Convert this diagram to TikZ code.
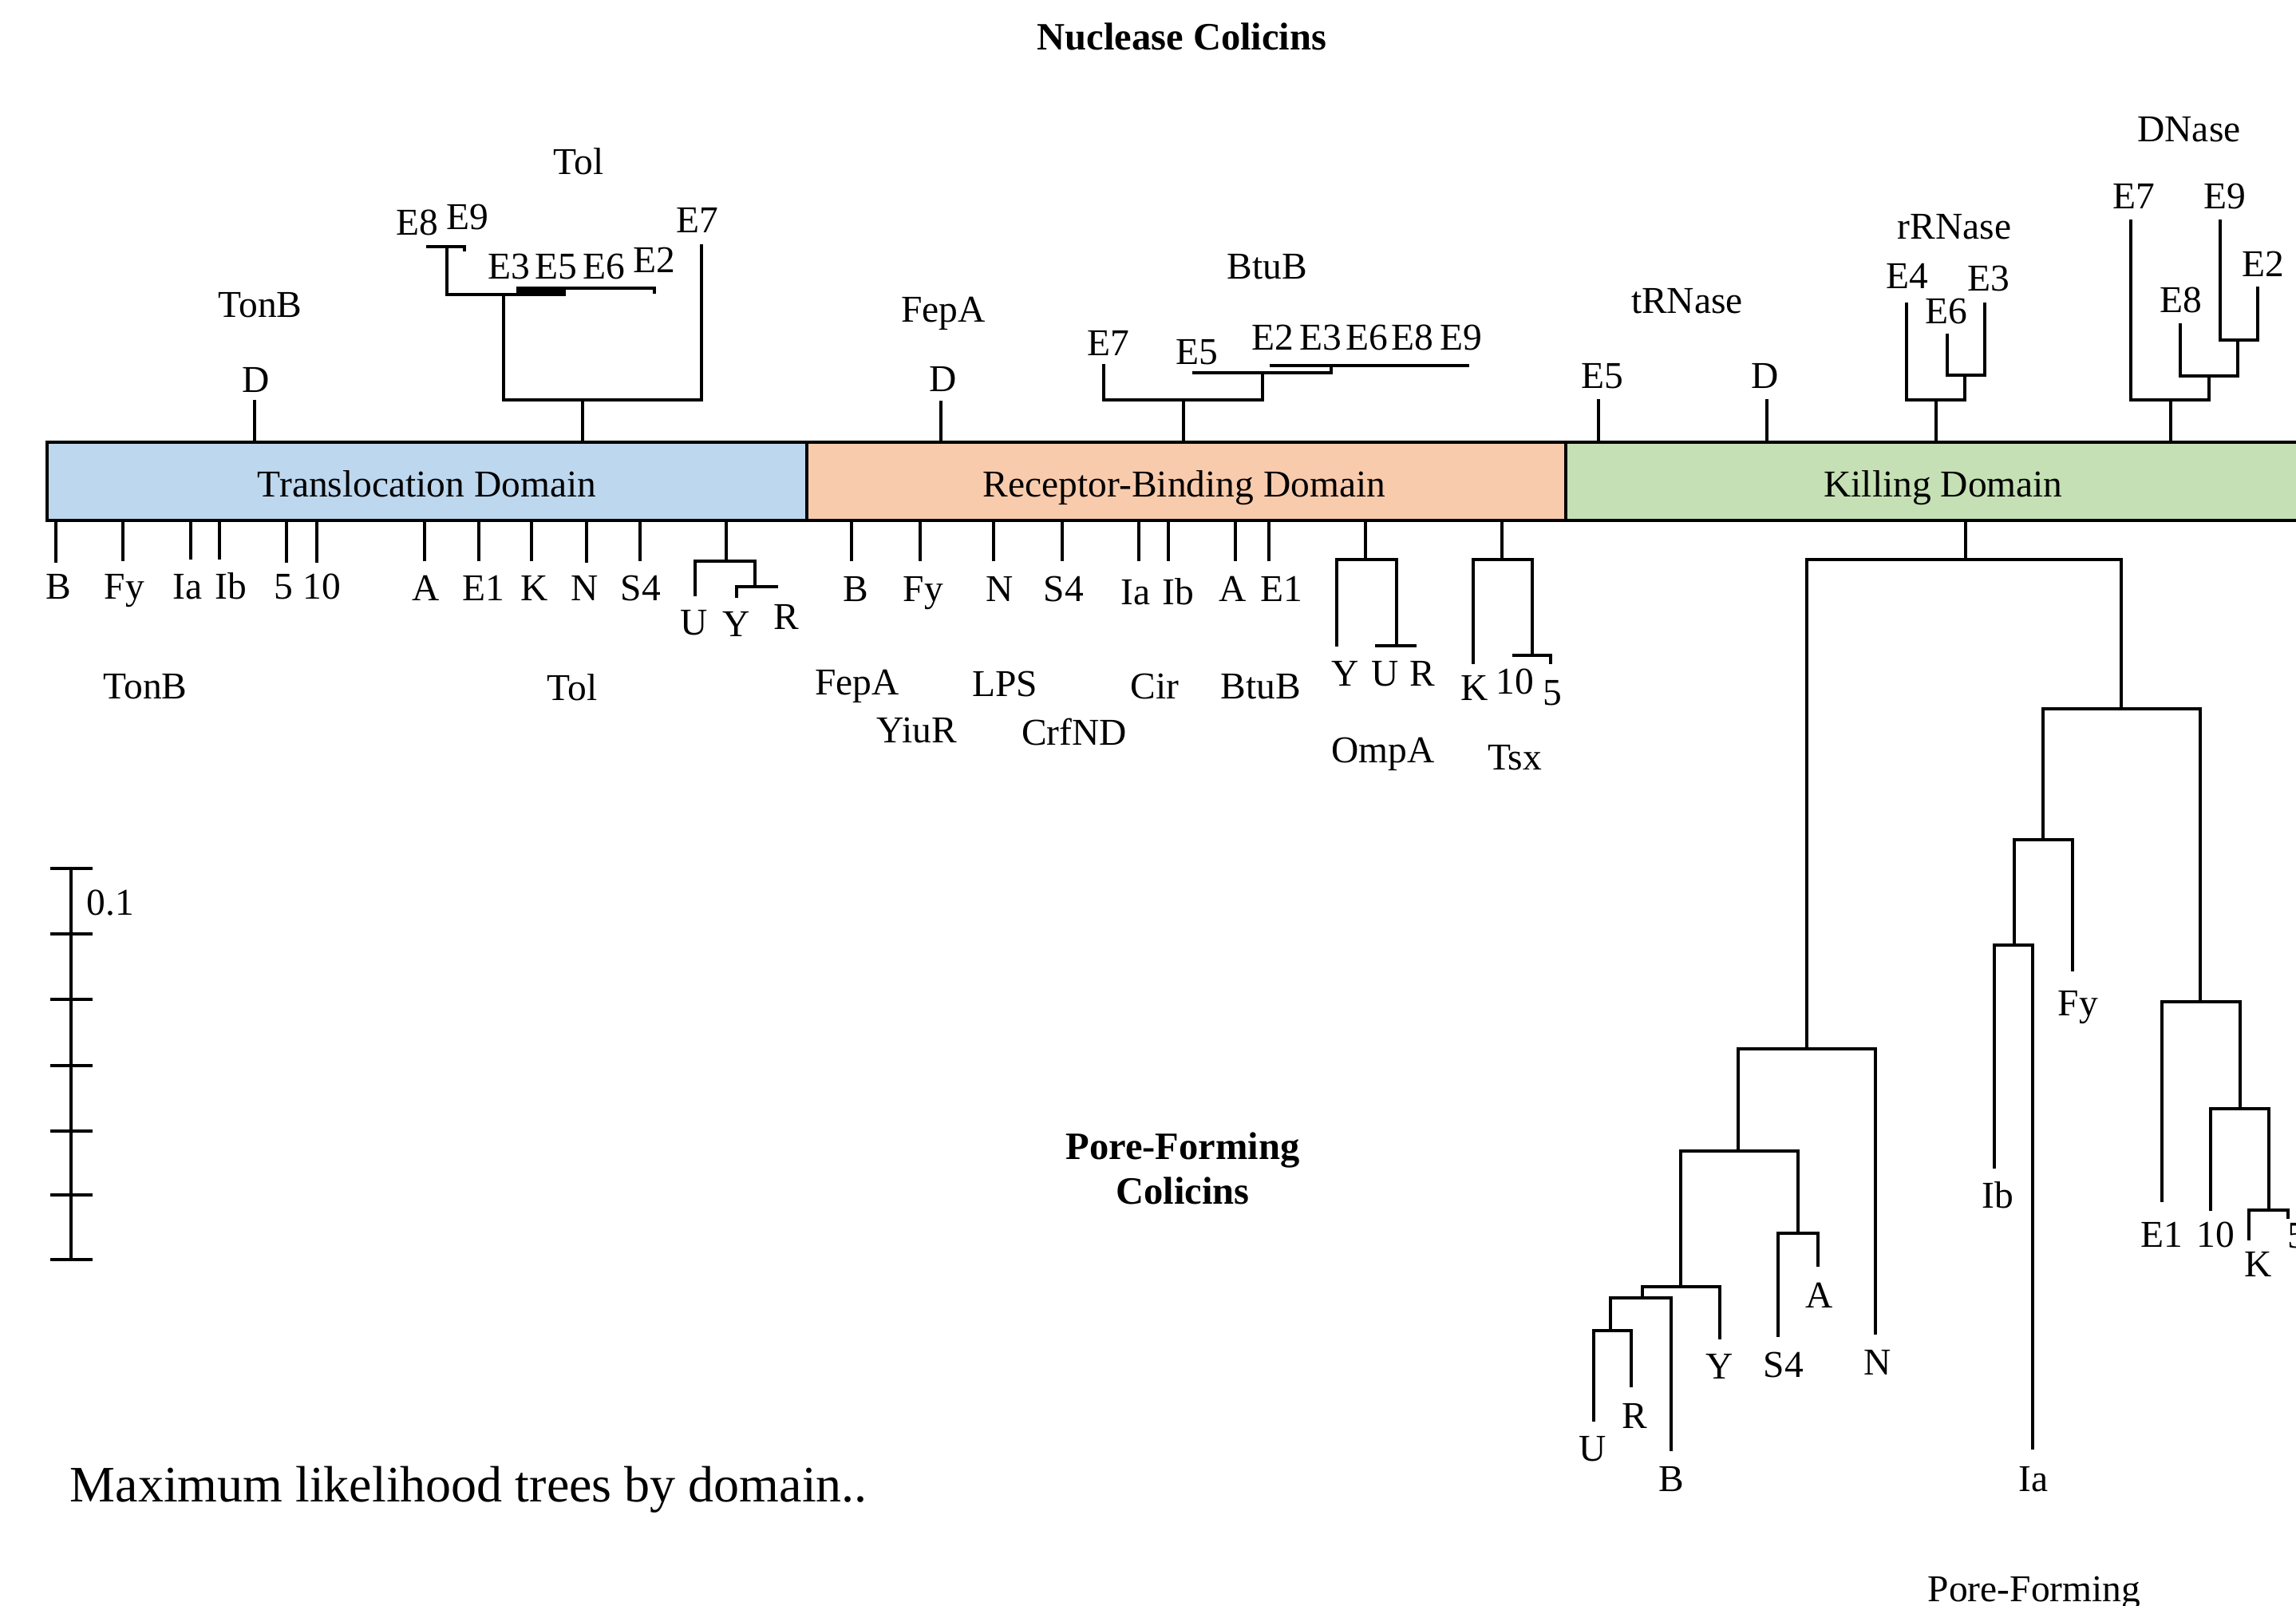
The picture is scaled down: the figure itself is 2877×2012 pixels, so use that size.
\documentclass[tikz,border=0pt]{standalone}
\usepackage{fontspec}
\setmainfont{Liberation Serif}
\definecolor{tblue}{HTML}{BDD7EE}
\definecolor{torange}{HTML}{F8CBAD}
\definecolor{tgreen}{HTML}{C5E0B4}
\tikzset{
  lab/.style={inner sep=0pt, anchor=base, font=\fontsize{13.5}{16}\selectfont},
  blab/.style={inner sep=0pt, anchor=base, font=\fontsize{13.8}{16}\selectfont\bfseries},
  br/.style={line width=1pt, line join=miter, line cap=rect},
  dom/.style={draw=black, line width=1.1pt},
}
\begin{document}
\begin{tikzpicture}[x=0.01cm, y=-0.01cm]
\useasboundingbox (0,0) rectangle (2877,2012);
% title
\node[blab] (title) at (1481,62) {Nuclease Colicins};
% domain bar
\path[dom, fill=tblue] (59,554) rectangle (1011,652);
\path[dom, fill=torange] (1011,554) rectangle (1962,652);
\path[dom, fill=tgreen] (1962,554) rectangle (2920,652);
\node[lab] (dT) at (535,622) {Translocation Domain};
\node[lab] (dR) at (1484,622) {Receptor-Binding Domain};
\node[lab] (dK) at (2435,622) {Killing Domain};

% ---------- upper: translocation ----------
\node[lab] (uTonB) at (326,397) {TonB};
\node[lab] (uTD) at (321,491) {D};
\node[lab] (uTol) at (725,218) {Tol};
\node[lab] (uTE8) at (523,294) {E8};
\node[lab] (uTE9) at (586,287) {E9};
\node[lab] (uTE3) at (638,349) {E3};
\node[lab] (uTE5) at (697,349) {E5};
\node[lab] (uTE6) at (757,349) {E6};
\node[lab] (uTE2) at (820,341) {E2};
\node[lab] (uTE7) at (874,291) {E7};
\draw[br] (319,554) -- (319,503);
\draw[br] (730,554) -- (730,501);
\draw[br] (631,369) -- (631,501) -- (879,501) -- (879,308);
\draw[br] (560,309) -- (560,369) -- (707,369) -- (707,365);
\draw[br] (536,309) -- (582,309) -- (582,313);
\draw[br] (649,365) -- (707,365);
\draw[br] (649,361) -- (820,361) -- (820,366);

% ---------- upper: receptor ----------
\node[lab] (uFepA) at (1182,403) {FepA};
\node[lab] (uRD) at (1182,490) {D};
\node[lab] (uBtuB) at (1588,349) {BtuB};
\node[lab] (uRE7) at (1389,445) {E7};
\node[lab] (uRE5) at (1500,456) {E5};
\node[lab] (uRE2) at (1595,438) {E2};
\node[lab] (uRE3) at (1655,438) {E3};
\node[lab] (uRE6) at (1713,438) {E6};
\node[lab] (uRE8) at (1770,438) {E8};
\node[lab] (uRE9) at (1831,438) {E9};
\draw[br] (1179,554) -- (1179,504);
\draw[br] (1483,554) -- (1483,501);
\draw[br] (1383,458) -- (1383,501) -- (1582,501) -- (1582,467);
\draw[br] (1496,467) -- (1668,467) -- (1668,461);
\draw[br] (1593,458) -- (1839,458);

% ---------- upper: killing ----------
\node[lab] (utRN) at (2114,392) {tRNase};
\node[lab] (uKE5) at (2008,486) {E5};
\node[lab] (uKD) at (2212,486) {D};
\node[lab] (urRN) at (2449,299) {rRNase};
\node[lab] (uKE4) at (2390,361) {E4};
\node[lab] (uKE6) at (2439,405) {E6};
\node[lab] (uKE3) at (2492,364) {E3};
\node[lab] (uDN) at (2743,177) {DNase};
\node[lab] (uKE7) at (2674,261) {E7};
\node[lab] (uKE9) at (2788,261) {E9};
\node[lab] (uKE8) at (2733,391) {E8};
\node[lab] (uKE2) at (2836,346) {E2};
\draw[br] (2003,554) -- (2003,502);
\draw[br] (2214,554) -- (2214,502);
\draw[br] (2426,554) -- (2426,501);
\draw[br] (2389,381) -- (2389,501) -- (2462,501) -- (2462,470);
\draw[br] (2440,420) -- (2440,470) -- (2487,470) -- (2487,381);
\draw[br] (2720,554) -- (2720,501);
\draw[br] (2670,277) -- (2670,501) -- (2768,501) -- (2768,471);
\draw[br] (2732,407) -- (2732,471) -- (2804,471) -- (2804,426);
\draw[br] (2782,277) -- (2782,426) -- (2829,426) -- (2829,361);

% ---------- lower: translocation ----------
\node[lab] (lB) at (73,750) {B};
\node[lab] (lFy) at (156,750) {Fy};
\node[lab] (lIa) at (235,750) {Ia};
\node[lab] (lIb) at (289,750) {Ib};
\node[lab] (l5) at (355,750) {5};
\node[lab] (l10) at (403,750) {10};
\node[lab] (lA) at (534,752) {A};
\node[lab] (lE1) at (606,752) {E1};
\node[lab] (lK) at (670,752) {K};
\node[lab] (lN) at (733,752) {N};
\node[lab] (lS4) at (803,752) {S4};
\node[lab] (lU) at (870,795) {U};
\node[lab] (lY) at (923,797) {Y};
\node[lab] (lR) at (985,788) {R};
\node[lab] (lTonB) at (182,875) {TonB};
\node[lab] (lTol) at (717,877) {Tol};
\foreach \x/\y in {70/703,154/701,239/699,275/699,359/703,397/703,532/701,600/701,666/701,735/703,802/701}
  \draw[br] (\x,652) -- (\x,\y);
\draw[br] (910,652) -- (910,703);
\draw[br] (871,745) -- (871,703) -- (946,703) -- (946,735);
\draw[br] (923,747) -- (923,735) -- (973,735);

% ---------- lower: receptor ----------
\node[lab] (rB) at (1072,753) {B};
\node[lab] (rFy) at (1157,753) {Fy};
\node[lab] (rN) at (1253,753) {N};
\node[lab] (rS4) at (1333,753) {S4};
\node[lab] (rIa) at (1423,757) {Ia};
\node[lab] (rIb) at (1476,757) {Ib};
\node[lab] (rA) at (1545,753) {A};
\node[lab] (rE1) at (1606,753) {E1};
\node[lab] (rY) at (1686,859) {Y};
\node[lab] (rU) at (1736,859) {U};
\node[lab] (rR) at (1782,859) {R};
\node[lab] (rK) at (1848,877) {K};
\node[lab] (r10) at (1898,869) {10};
\node[lab] (r5) at (1945,883) {5};
\node[lab] (rFepA) at (1074,870) {FepA};
\node[lab] (rYiuR) at (1149,930) {YiuR};
\node[lab] (rLPS) at (1259,872) {LPS};
\node[lab] (rCrfND) at (1346,933) {CrfND};
\node[lab] (rCir) at (1447,875) {Cir};
\node[lab] (rBtuB) at (1580,875) {BtuB};
\node[lab] (rOmpA) at (1733,955) {OmpA};
\node[lab] (rTsx) at (1898,964) {Tsx};
\foreach \x in {1067,1153,1245,1331,1427,1464,1548,1590}
  \draw[br] (\x,652) -- (\x,701);
\draw[br] (1711,652) -- (1711,701);
\draw[br] (1675,808) -- (1675,701) -- (1750,701) -- (1750,809);
\draw[br] (1725,809) -- (1773,809);
\draw[br] (1882,652) -- (1882,701);
\draw[br] (1846,830) -- (1846,701) -- (1920,701) -- (1920,821);
\draw[br] (1897,821) -- (1943,821) -- (1943,830);

% ---------- lower: killing (pore-forming) ----------
\node[lab] (kN) at (2353,1722) {N};
\node[lab] (kS4) at (2235,1725) {S4};
\node[lab] (kA) at (2280,1638) {A};
\node[lab] (kY) at (2155,1727) {Y};
\node[lab] (kB) at (2094,1868) {B};
\node[lab] (kU) at (1996,1830) {U};
\node[lab] (kR) at (2048,1789) {R};
\node[lab] (kFy) at (2604,1272) {Fy};
\node[lab] (kIb) at (2503,1513) {Ib};
\node[lab] (kIa) at (2548,1868) {Ia};
\node[lab] (kE1) at (2709,1562) {E1};
\node[lab] (k10) at (2776,1562) {10};
\node[lab] (kK) at (2830,1599) {K};
\node[lab] (k5) at (2878,1563) {5};
\node[lab] (kPF) at (2549,2006) {Pore-Forming};
\draw[br] (2463,652) -- (2463,701);
\draw[br] (2264,1314) -- (2264,701) -- (2658,701) -- (2658,888);
\draw[br] (2560,1052) -- (2560,888) -- (2757,888) -- (2757,1254);
\draw[br] (2524,1184) -- (2524,1052) -- (2597,1052) -- (2597,1215);
\draw[br] (2499,1462) -- (2499,1184) -- (2547,1184) -- (2547,1814);
\draw[br] (2709,1504) -- (2709,1255) -- (2807,1255) -- (2807,1389);
\draw[br] (2770,1515) -- (2770,1389) -- (2843,1389) -- (2843,1516);
\draw[br] (2818,1552) -- (2818,1516) -- (2867,1516) -- (2867,1525);
\draw[br] (2178,1442) -- (2178,1314) -- (2350,1314) -- (2350,1670);
\draw[br] (2106,1612) -- (2106,1442) -- (2253,1442) -- (2253,1545);
\draw[br] (2228,1673) -- (2228,1545) -- (2278,1545) -- (2278,1585);
\draw[br] (2058,1626) -- (2058,1612) -- (2155,1612) -- (2155,1676);
\draw[br] (2018,1667) -- (2018,1626) -- (2094,1626) -- (2094,1816);
\draw[br] (1997,1779) -- (1997,1667) -- (2044,1667) -- (2044,1736);

% ---------- pore-forming label ----------
\node[blab] (pf1) at (1482,1452) {Pore-Forming};
\node[blab] (pf2) at (1482,1508) {Colicins};

% ---------- scale bar ----------
\draw[br] (89,1088) -- (89,1578);
\foreach \y in {1088,1170,1252,1335,1417,1497,1578}
  \draw[br] (65,\y) -- (114,\y);
\node[lab, anchor=base west] (sc) at (108,1146) {0.1};

% ---------- caption ----------
\node[inner sep=0pt, anchor=base west, font=\fontsize{18.2}{22}\selectfont] (cap) at (87,1881) {Maximum likelihood trees by domain..};
\end{tikzpicture}
\end{document}
